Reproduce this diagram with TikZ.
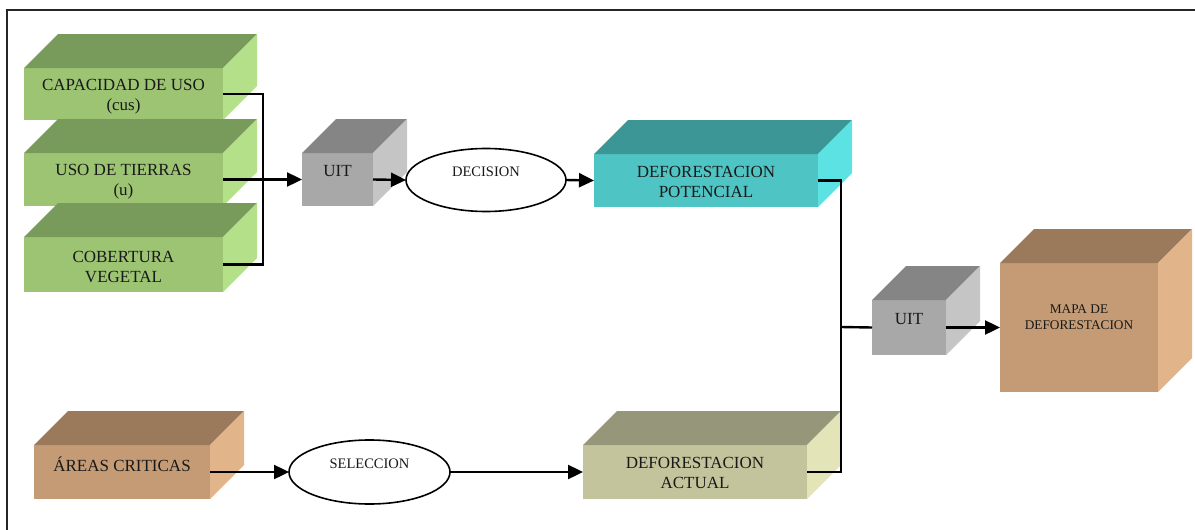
\documentclass[tikz,border=0pt]{standalone}
\usepackage{fontspec}
\setmainfont{Liberation Serif}
\usetikzlibrary{arrows.meta,shapes.geometric}

% face colours: F = front, T = top, S = side
\definecolor{grnF}{HTML}{9DC473}
\definecolor{grnT}{HTML}{789A5A}
\definecolor{grnS}{HTML}{B5E08A}
\definecolor{tealF}{HTML}{4FC4C4}
\definecolor{tealT}{HTML}{3D9696}
\definecolor{tealS}{HTML}{5CE2E2}
\definecolor{gryF}{HTML}{A8A8A8}
\definecolor{gryT}{HTML}{858585}
\definecolor{gryS}{HTML}{C5C5C5}
\definecolor{brnF}{HTML}{C49B74}
\definecolor{brnT}{HTML}{9A7A5B}
\definecolor{brnS}{HTML}{E2B489}
\definecolor{olvF}{HTML}{C4C49C}
\definecolor{olvT}{HTML}{96967A}
\definecolor{olvS}{HTML}{E4E4B9}

\tikzset{
  face/.style={draw=none, inner sep=0pt, outer sep=0pt},
  lbl/.style={inner sep=0pt, align=center, text=black!90,
              font=\fontsize{17}{20}\selectfont},
  oval/.style={ellipse, draw=black, line width=1.6pt, fill=white,
               inner sep=0pt, outer sep=0pt},
  link/.style={line width=2.4pt, line join=miter},
  flow/.style={link, -{Triangle[length=15pt,width=14pt]}},
}

% depth of the oblique faces
\def\dd{34}

% \solid{name}{x0}{y0}{x1}{y1}{colour family}{text}{text lift}
\newcommand{\solid}[8]{%
  \node[face, fill=#6F, minimum width={#4-#2}, minimum height={#5-#3}]
    (#1) at ({(#2+#4)/2},{(#3+#5)/2}) {};
  \fill[#6T] (#1.north west) -- ++(\dd,-\dd)
    -- ([shift={(\dd,-\dd)}]#1.north east) -- (#1.north east) -- cycle;
  \fill[#6S] (#1.north east) -- ++(\dd,-\dd)
    -- ([shift={(\dd,-\dd)}]#1.south east) -- (#1.south east) -- cycle;
  \node[lbl] (#1t) at ([yshift=#8]#1.center) {#7};
}

\begin{document}
\begin{tikzpicture}[x=1pt,y=-1pt]
\useasboundingbox (0,0) rectangle (1195,530);
\draw[line width=1.8pt, black!85] (7,10) rectangle (1200,540);

% input layers
\solid{cap}{24}{68}{223}{120}{grn}{CAPACIDAD DE USO\\(cus)}{-3pt}
\solid{uso}{24}{153}{223}{206}{grn}{USO DE TIERRAS\\(u)}{-2pt}
\solid{cob}{24}{237}{223}{292}{grn}{COBERTURA\\VEGETAL}{-2pt}

% potential deforestation branch
\solid{uitA}{302}{153}{373}{206}{gry}{UIT}{8pt}
\node[oval, minimum width=160pt, minimum height=63pt] (dec) at (486,180) {};
\node[lbl, font=\fontsize{14.5}{17}\selectfont] (dect) at ([yshift=8pt]dec.center) {DECISION};
\solid{pot}{594}{154}{818}{207}{teal}{DEFORESTACION\\POTENCIAL}{-1pt}

% actual deforestation branch
\solid{are}{34}{445}{210}{499}{brn}{ÁREAS CRITICAS}{8pt}
\node[oval, minimum width=161pt, minimum height=64pt] (sel) at (369.5,472) {};
\node[lbl, font=\fontsize{14.5}{17}\selectfont] (selt) at ([yshift=8pt]sel.center) {SELECCION};
\solid{act}{583}{445}{807}{499}{olv}{DEFORESTACION\\ACTUAL}{-1pt}

% merge and result
\solid{uitB}{872}{300}{946}{355}{gry}{UIT}{8pt}
\solid{map}{1000}{263}{1158}{392}{brn}{}{0pt}
\node[lbl, font=\fontsize{13.3}{16}\selectfont] (mapt) at ([yshift=10pt]map.center) {MAPA DE\\DEFORESTACION};

% connectors
\coordinate (gj) at (263,180);
\coordinate (dj) at (841,327);
\draw[link] (cap.east) -| (gj) |- (cob.east);
\draw[flow] (uso.east) -- (uitA.west);
\draw[flow] (uitA.east) -- (dec.west);
\draw[flow] (dec.east) -- (pot.west);
\draw[flow] (are.east) -- (are.east -| sel.west);
\draw[flow] (sel.east) -- (sel.east -| act.west);
\draw[link] (pot.east) -| (dj) |- (act.east);
\draw[link] (dj) -- (uitB.west);
\draw[flow] (uitB.east) -- (uitB.east -| map.west);
\end{tikzpicture}
\end{document}
